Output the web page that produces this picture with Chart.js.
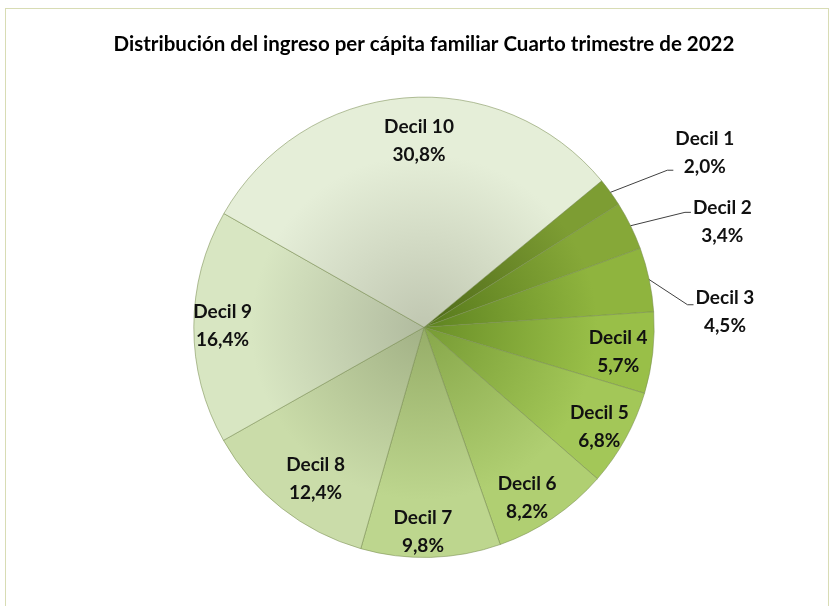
<!DOCTYPE html>
<html><head><meta charset="utf-8">
<script src="https://cdn.jsdelivr.net/npm/chart.js@4.4.0/dist/chart.umd.min.js"></script>
<style>
html,body{margin:0;padding:0;background:#fff;}
#wrap{position:relative;width:830px;height:606px;overflow:hidden;}
#frame{position:absolute;left:5px;top:8px;width:824px;height:660px;border:1.5px solid #d8dcb4;box-sizing:border-box;pointer-events:none;}
canvas{position:absolute;left:0;top:0;}
</style></head><body>
<div id="wrap"><canvas id="c" width="830" height="606"></canvas><div id="frame"></div></div>
<script>
const chartTitle = 'Distribución del ingreso per cápita familiar Cuarto trimestre de 2022';
const categories = ['Decil 1','Decil 2','Decil 3','Decil 4','Decil 5','Decil 6','Decil 7','Decil 8','Decil 9','Decil 10'];
const shares = [2.0, 3.4, 4.5, 5.7, 6.8, 8.2, 9.8, 12.4, 16.4, 30.8];

// styling (kept separate from data)
const rimColors  = ['#7d9d33','#86a838','#8fb43e','#99bf48','#a3c758','#b0cf72','#bdd68e','#cadca9','#d8e6c2','#e5eed8'];
const coreColors = ['#4d6818','#56781b','#5e8320','#6a8f27','#779b34','#87a74a','#96ad68','#a2b186','#b1bb9f','#c0c7b1'];
// da: angle tweak (deg), rf: radius factor, out: outside label, ly: leader end y offset
const labelStyle = [
  {da:4.1, rf:1.435, out:true, ly:17},
  {da:6.8, rf:1.374, out:true, ly:-10},
  {da:9.0, rf:1.309, out:true, ly:-7},
  {da:0.7, rf:0.85},
  {da:0.6, rf:0.875},
  {da:2.9, rf:0.865},
  {da:2.0, rf:0.89},
  {da:-2.7, rf:0.81},
  {da:0.2, rf:0.875},
  {da:3.4, rf:0.81}
];
const labelFont = 'bold 19px Lato';

function sliceFill(ctx){
  const chart = ctx.chart, a = chart.chartArea, i = ctx.dataIndex;
  if(!a) return rimColors[i];
  const cx=(a.left+a.right)/2, cy=(a.top+a.bottom)/2, r=Math.min(a.right-a.left,a.bottom-a.top)/2;
  const g = chart.ctx.createRadialGradient(cx,cy,0,cx,cy,r);
  g.addColorStop(0, coreColors[i]);
  g.addColorStop(0.75, rimColors[i]);
  g.addColorStop(1, rimColors[i]);
  return g;
}

const labelPlugin = {
  id:'sliceLabels',
  afterDatasetsDraw(chart){
    const c = chart.ctx;
    const meta = chart.getDatasetMeta(0);
    c.save();
    c.font = labelFont;
    c.fillStyle = '#111';
    c.textAlign = 'center';
    c.textBaseline = 'middle';
    meta.data.forEach((arc,i)=>{
      const p = arc.getProps(['x','y','startAngle','endAngle','outerRadius'], true);
      const mid = (p.startAngle+p.endAngle)/2;
      const st = labelStyle[i];
      const ang = mid + st.da*Math.PI/180;
      const lx = p.x + Math.cos(ang)*p.outerRadius*st.rf;
      const ly = p.y + Math.sin(ang)*p.outerRadius*st.rf;
      const pct = shares[i].toFixed(1).replace('.',',') + '%';
      c.fillText(categories[i], lx, ly-14);
      c.fillText(pct, lx, ly+14);
      if(st.out){
        const w = Math.max(c.measureText(categories[i]).width, c.measureText(pct).width);
        const sx = p.x + Math.cos(mid)*p.outerRadius, sy = p.y + Math.sin(mid)*p.outerRadius;
        const ex = lx - w/2 - 2, ey = ly + st.ly;
        c.beginPath();
        c.strokeStyle = '#404040';
        c.lineWidth = 1;
        c.moveTo(sx, sy);
        c.lineTo(ex-6, ey);
        c.lineTo(ex, ey);
        c.stroke();
      }
    });
    c.restore();
  }
};

new Chart(document.getElementById('c'), {
  type:'pie',
  data:{
    labels: categories,
    datasets:[{
      data: shares,
      backgroundColor: sliceFill,
      borderColor: 'rgba(120,140,80,0.55)',
      borderWidth: 1,
      hoverOffset: 0
    }]
  },
  options:{
    responsive:false,
    devicePixelRatio:1,
    animation:false,
    rotation:50.5,
    layout:{padding:{left:18,right:0,top:0,bottom:48}},
    plugins:{
      legend:{display:false},
      tooltip:{enabled:false},
      title:{display:true,text:chartTitle,color:'#000',font:{family:'Lato',size:20.5,weight:'bold'},padding:{top:32,bottom:40}}
    }
  },
  plugins:[labelPlugin]
});
</script>
</body></html>
